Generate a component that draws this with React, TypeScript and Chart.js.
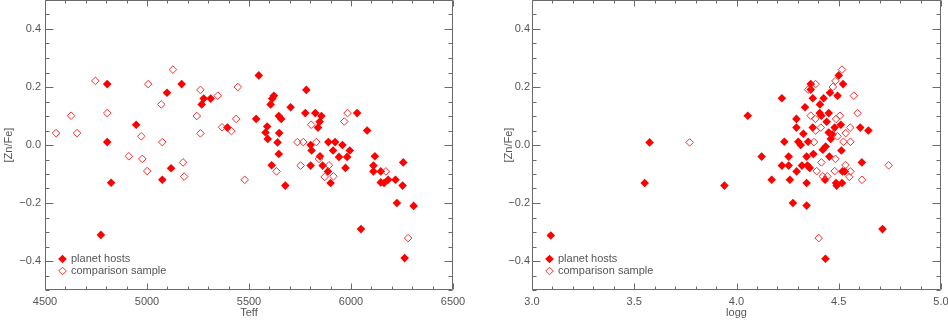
import React, { useEffect, useRef } from 'react';
import { Chart, registerables } from 'chart.js';

Chart.register(...registerables);

// ---------- data ----------
// Left panel: [Zn/Fe] vs Teff
const hostTeff = [
  4805, 4805, 4824, 4947, 5075, 5098, 5118, 5170, 5268, 5278, 5312, 5394,
  4774, 6049, 6225, 6307, 6263,
  5548, 5781, 5622, 5614, 5606, 5704, 5535, 5646, 5658, 5776, 5825, 5855,
  5846, 5838, 6030, 6079, 5589, 5581, 5592, 5648, 5640, 5646, 5802, 5807,
  5889, 5922, 5958, 5912, 5994, 5981, 5941, 5848, 5611, 5802, 5861, 5887,
  5973, 5678, 5900, 6117, 6110, 6110, 6146, 6256, 6146, 6162, 6182, 6218,
  6253,
];
const hostZnFeT = [
  0.21, 0.01, -0.13, 0.07, -0.12, 0.18, -0.08, 0.21, 0.14, 0.16, 0.16, 0.06,
  -0.31, -0.29, -0.2, -0.21, -0.39,
  0.24, 0.19, 0.17, 0.16, 0.14, 0.13, 0.09, 0.1, 0.09, 0.11, 0.11, 0.1,
  0.08, 0.06, 0.11, 0.05, 0.064, 0.043, 0.021, 0.041, 0.009, -0.031, 0.0, -0.019,
  0.01, 0.01, 0.0, -0.019, -0.019, -0.041, -0.041, -0.039, -0.07, -0.071, -0.071, -0.091,
  -0.079, -0.14, -0.131, -0.039, -0.071, -0.091, -0.091, -0.06, -0.129, -0.131, -0.12, -0.12,
  -0.14,
];
const compTeff = [
  4554, 4628, 4657, 4747, 4805, 4911, 4972, 4977, 5001, 5006, 5070, 5075,
  5127, 5177, 5182, 5244, 5262, 5262, 5347, 5368, 5414, 5437, 5445, 5479,
  6280,
  5635, 5737, 5766, 5830, 5805, 5967, 5983, 5753, 5843, 5892, 5871, 5914,
  6171,
];
const compZnFeT = [
  0.041, 0.101, 0.041, 0.221, 0.11, -0.039, 0.03, -0.048, -0.09, 0.21, 0.14, 0.01,
  0.26, -0.06, -0.109, 0.1, 0.19, 0.04, 0.17, 0.061, 0.048, 0.09, 0.2, -0.12,
  -0.321,
  -0.091, 0.01, 0.01, 0.01, 0.07, 0.081, 0.11, -0.071, -0.048, -0.07, -0.11, -0.108,
  -0.091,
];

// Right panel: [Zn/Fe] vs logg
const hostLogg = [
  3.092, 3.551, 3.575,
  3.941, 4.055, 4.123, 4.172, 4.222, 4.222, 4.234, 4.255, 4.255, 4.261, 4.276,
  4.293, 4.293, 4.294, 4.302, 4.314, 4.32, 4.327, 4.335, 4.343, 4.343, 4.343,
  4.347, 4.35, 4.358, 4.363, 4.363, 4.373, 4.373, 4.376, 4.408, 4.407, 4.415,
  4.422, 4.426, 4.433, 4.435, 4.436, 4.441, 4.451, 4.451, 4.454, 4.457, 4.461,
  4.469, 4.48, 4.487, 4.49, 4.494, 4.5, 4.51, 4.513, 4.516, 4.518, 4.521,
  4.53, 4.605, 4.613, 4.645, 4.714,
];
const hostZnFeG = [
  -0.312, -0.131, 0.009,
  -0.14, 0.101, -0.04, -0.12, 0.161, -0.071, 0.011, -0.071, -0.04, -0.12, -0.2,
  0.09, 0.06, -0.091, 0.011, 0.0, -0.071, 0.039, 0.13, -0.04, -0.131, -0.209,
  -0.071, 0.011, -0.079, 0.21, 0.191, 0.161, 0.06, -0.031, 0.14, 0.11, 0.101,
  -0.016, 0.161, -0.12, -0.392, -0.005, 0.08, 0.11, 0.043, -0.04, 0.18, 0.021,
  0.036, 0.06, -0.131, -0.14, 0.17, 0.24, 0.07, -0.019, -0.131, -0.091, 0.21,
  -0.091, 0.06, -0.06, 0.05, -0.29,
];
const compLogg = [
  3.771,
  4.516, 4.387, 4.35, 4.484, 4.471, 4.574, 4.592, 4.363, 4.386, 4.487, 4.506,
  4.387, 4.412, 4.556, 4.534, 4.494, 4.379, 4.523, 4.557, 4.484, 4.415, 4.533,
  4.557, 4.392, 4.48, 4.422, 4.444, 4.552, 4.614, 4.744, 4.402,
];
const compZnFeG = [
  0.009,
  0.26, 0.21, 0.191, 0.221, 0.2, 0.17, 0.11, 0.101, 0.09, 0.09, 0.101,
  0.05, 0.06, 0.06, 0.041, 0.03, 0.01, 0.011, 0.011, -0.048, -0.06, -0.069,
  -0.091, -0.09, -0.09, -0.108, -0.108, -0.11, -0.12, -0.07, -0.321,
];

const teffTicks = [4500, 5000, 5500, 6000, 6500];
const loggTicks = [3.0, 3.5, 4.0, 4.5, 5.0];
const yTicks = [-0.4, -0.2, 0.0, 0.2, 0.4];
const legendLabels = ['planet hosts', 'comparison sample'];

// ---------- style ----------
const FONT = 'Liberation Sans, Arial, sans-serif';
const TEXT = '#555555';
const AXIS = '#6a6a6a';
const RED = '#ff0000';
const RED_OPEN = '#ff2a2a';

const fmtY = (v: number) => v.toFixed(1).replace('-', '\u2212');

const idlFrame = {
  id: 'idlFrame',
  afterDatasetsDraw(chart: any, _args: any, opts: any) {
    const { ctx, chartArea: a, scales } = chart;
    const xs = scales.x;
    const ys = scales.y;
    ctx.save();
    ctx.strokeStyle = AXIS;
    ctx.lineWidth = 1;
    ctx.beginPath();
    const L = a.left + 0.5, R = a.right - 0.5, T = a.top + 0.5, B = a.bottom - 0.5;
    ctx.moveTo(L, T); ctx.lineTo(R, T); ctx.lineTo(R, B); ctx.lineTo(L, B); ctx.closePath();
    // x ticks
    const nx = Math.round((xs.max - xs.min) / opts.xMinor);
    for (let i = 0; i <= nx; i++) {
      const v = xs.min + i * opts.xMinor;
      const r = v / opts.xMajor;
      const major = Math.abs(r - Math.round(r)) < 1e-6;
      const len = major ? 6 : 3;
      const px = Math.round(xs.getPixelForValue(v)) + 0.5;
      ctx.moveTo(px, B); ctx.lineTo(px, B - len);
      ctx.moveTo(px, T); ctx.lineTo(px, T + len);
    }
    const ny = Math.round((ys.max - ys.min) / 0.05);
    for (let i = 0; i <= ny; i++) {
      const v = ys.min + i * 0.05;
      const r = v / 0.2;
      const major = Math.abs(r - Math.round(r)) < 1e-6;
      const len = major ? 8 : 4;
      const py = Math.round(ys.getPixelForValue(v)) + 0.5;
      ctx.moveTo(L, py); ctx.lineTo(L + len, py);
      ctx.moveTo(R, py); ctx.lineTo(R - len, py);
    }
    ctx.stroke();

    // legend (bottom-left, inside the plot)
    const mx = a.left + 17.5;
    const tx = a.left + 26;
    const rows = [a.bottom - 31, a.bottom - 19];
    const diamond = (x: number, y: number, r: number) => {
      ctx.beginPath();
      ctx.moveTo(x, y - r); ctx.lineTo(x + r, y); ctx.lineTo(x, y + r); ctx.lineTo(x - r, y); ctx.closePath();
    };
    diamond(mx, rows[0], 4.3);
    ctx.fillStyle = RED; ctx.fill();
    diamond(mx, rows[1], 3.8);
    ctx.strokeStyle = RED_OPEN; ctx.stroke();
    ctx.fillStyle = TEXT;
    ctx.font = `11px ${FONT}`;
    ctx.textBaseline = 'middle';
    ctx.textAlign = 'left';
    ctx.fillText(legendLabels[0], tx, rows[0]);
    ctx.fillText(legendLabels[1], tx, rows[1]);
    ctx.restore();
  },
};

type PanelProps = {
  left: number;
  width: number;
  hx: number[]; hy: number[]; cx: number[]; cy: number[];
  xMin: number; xMax: number; xTicks: number[]; xFmt: (v: number) => string;
  xMinor: number; xMajor: number; xTitle: string;
  yWidth: number; yTitlePad: number; yLabelPad: number; padRight: number;
};

function Panel(p: PanelProps) {
  const ref = useRef<HTMLCanvasElement | null>(null);
  useEffect(() => {
    if (!ref.current) return;
    const chart = new Chart(ref.current, {
      type: 'scatter',
      data: {
        datasets: [
          {
            label: legendLabels[0],
            data: p.hx.map((x, i) => ({ x, y: p.hy[i] })),
            pointStyle: 'rectRot',
            pointRadius: 4.3,
            pointHoverRadius: 4.3,
            backgroundColor: RED,
            borderColor: RED,
            borderWidth: 0,
            order: 1,
          },
          {
            label: legendLabels[1],
            data: p.cx.map((x, i) => ({ x, y: p.cy[i] })),
            pointStyle: 'rectRot',
            pointRadius: 3.8,
            pointHoverRadius: 3.8,
            backgroundColor: 'rgba(0,0,0,0)',
            borderColor: RED_OPEN,
            borderWidth: 1,
            order: 0,
          },
        ],
      },
      options: {
        animation: false,
        responsive: false,
        devicePixelRatio: 1,
        layout: { autoPadding: false, padding: { left: 0, right: p.padRight, top: 0, bottom: 0 } },
        plugins: {
          legend: { display: false },
          tooltip: { enabled: false },
          idlFrame: { xMinor: p.xMinor, xMajor: p.xMajor },
        } as any,
        scales: {
          x: {
            type: 'linear',
            min: p.xMin,
            max: p.xMax,
            grid: { display: false, drawTicks: false },
            border: { display: false },
            ticks: {
              autoSkip: false,
              maxRotation: 0,
              padding: 5,
              color: TEXT,
              font: { family: FONT, size: 11 },
              callback: (v: any) => p.xFmt(Number(v)),
            },
            afterBuildTicks: (s: any) => { s.ticks = p.xTicks.map((v) => ({ value: v })); },
            afterFit: (s: any) => { s.height = 31; s.paddingLeft = 0; s.paddingRight = 0; },
            title: {
              display: true,
              text: p.xTitle,
              color: TEXT,
              font: { family: FONT, size: 11 },
              padding: { top: 0, bottom: 1 },
            },
          },
          y: {
            type: 'linear',
            min: -0.5,
            max: 0.5,
            grid: { display: false, drawTicks: false },
            border: { display: false },
            ticks: {
              autoSkip: false,
              padding: p.yLabelPad,
              color: TEXT,
              font: { family: FONT, size: 11 },
              callback: (v: any) => fmtY(Number(v)),
            },
            afterBuildTicks: (s: any) => { s.ticks = yTicks.map((v) => ({ value: v })); },
            afterFit: (s: any) => { s.width = p.yWidth; s.paddingTop = 0; s.paddingBottom = 0; },
            title: {
              display: true,
              text: '[Zn/Fe]',
              color: TEXT,
              font: { family: FONT, size: 11 },
              padding: { top: p.yTitlePad, bottom: 0 },
            },
          },
        },
      } as any,
      plugins: [idlFrame as any],
    });
    return () => chart.destroy();
  }, []);
  return (
    <div style={{ position: 'absolute', left: p.left, top: 0, width: p.width, height: 321 }}>
      <canvas ref={ref} width={p.width} height={321} style={{ display: 'block' }} />
    </div>
  );
}

export default function App() {
  return (
    <div style={{ position: 'absolute', left: 0, top: 0, width: 948, height: 321, background: '#fff', overflow: 'hidden' }}>
      <Panel
        left={0} width={474}
        hx={hostTeff} hy={hostZnFeT} cx={compTeff} cy={compZnFeT}
        xMin={4500} xMax={6500} xTicks={teffTicks} xFmt={(v) => String(v)}
        xMinor={100} xMajor={500} xTitle="Teff"
        yWidth={45} yTitlePad={2.5} yLabelPad={4} padRight={21}
      />
      <Panel
        left={474} width={474}
        hx={hostLogg} hy={hostZnFeG} cx={compLogg} cy={compZnFeG}
        xMin={3.0} xMax={5.0} xTicks={loggTicks} xFmt={(v) => v.toFixed(1)}
        xMinor={0.1} xMajor={0.5} xTitle="logg"
        yWidth={58} yTitlePad={28.5} yLabelPad={2} padRight={7}
      />
    </div>
  );
}
